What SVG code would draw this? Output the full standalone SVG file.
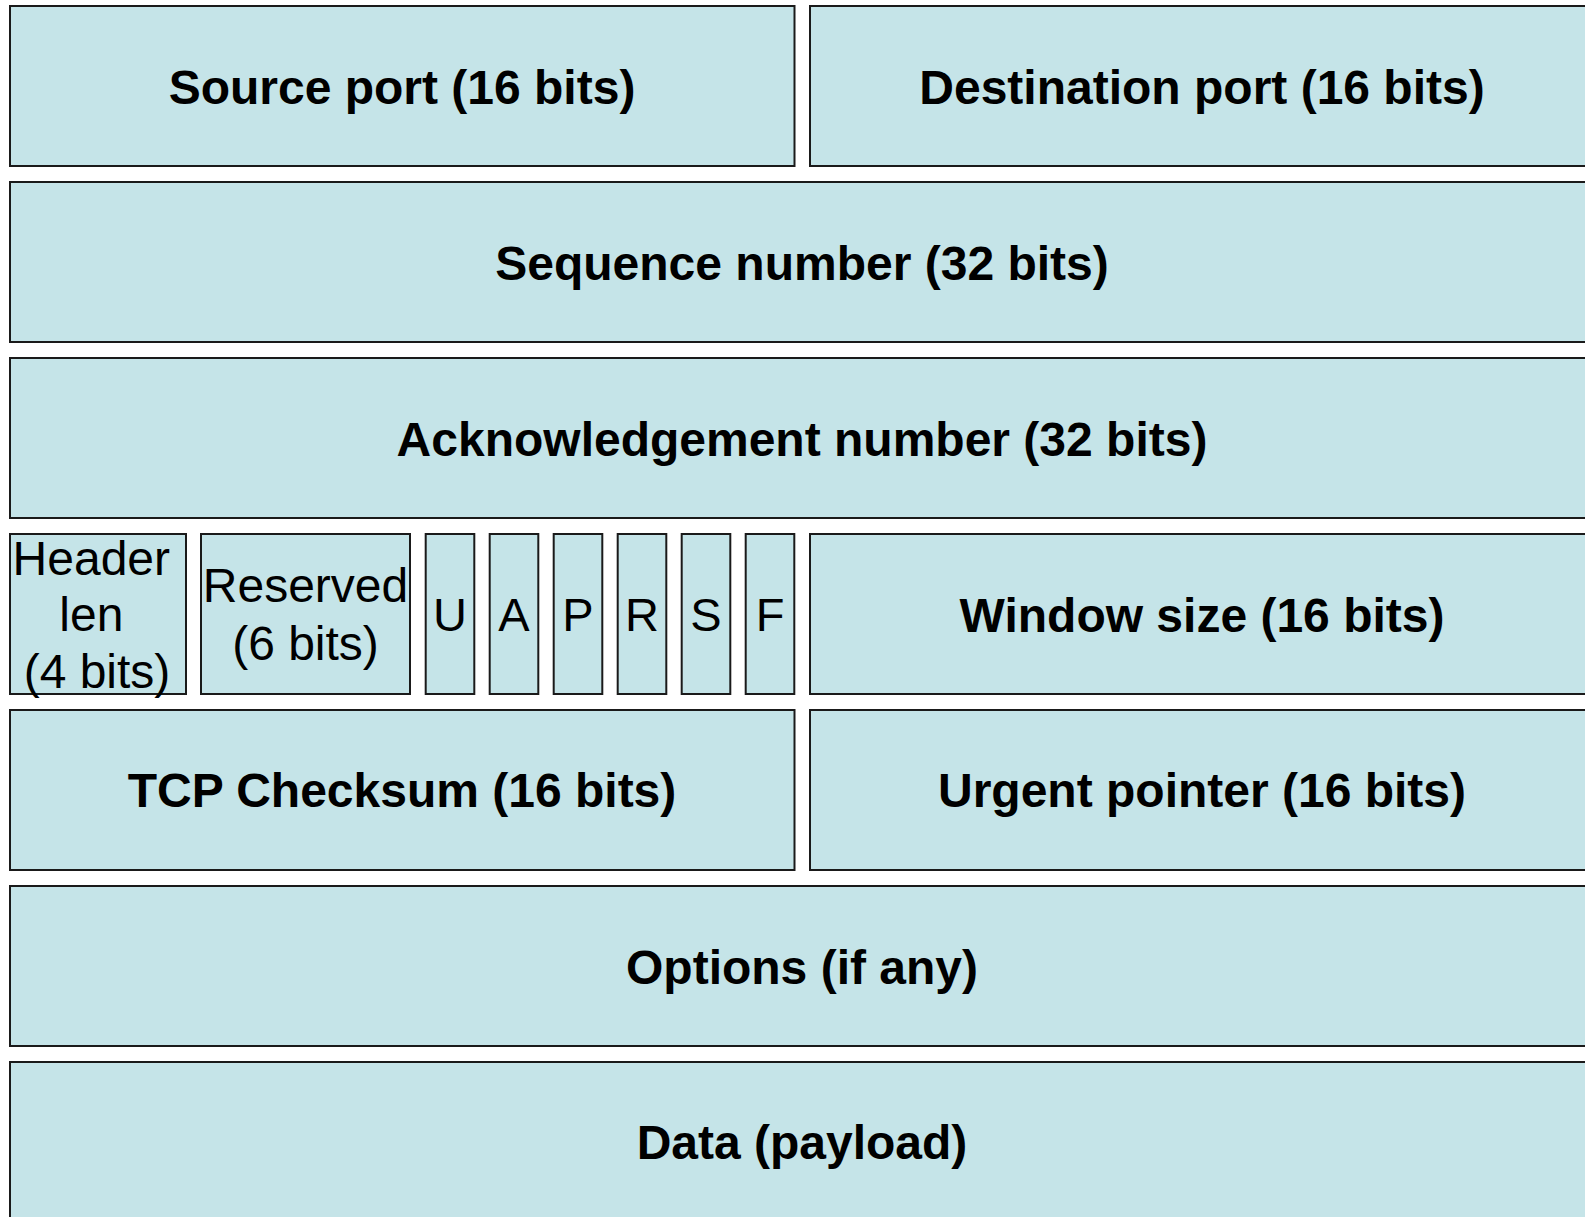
<svg xmlns="http://www.w3.org/2000/svg" width="1585" height="1217" viewBox="0 0 1585 1217">
  <style>
    .field { fill: #C5E4E8; stroke: #1a1a1a; stroke-width: 2; }
    .bold { font-family: "Liberation Sans", Arial, sans-serif; font-weight: bold; font-size: 48px; fill: #000; text-anchor: middle; }
    .reg { font-family: "Liberation Sans", Arial, sans-serif; font-size: 48px; fill: #000; text-anchor: middle; }
    .flag { font-family: "Liberation Sans", Arial, sans-serif; font-size: 47px; fill: #000; text-anchor: middle; }
  </style>
  <rect width="1585" height="1217" fill="#ffffff"/>

  <!-- Row 1 -->
  <g id="source-port">
    <rect class="field" x="10" y="6" width="784.5" height="160"/>
    <text class="bold" x="402" y="104">Source port (16 bits)</text>
  </g>
  <g id="destination-port">
    <rect class="field" x="810" y="6" width="784.5" height="160"/>
    <text class="bold" x="1202" y="104">Destination port (16 bits)</text>
  </g>

  <!-- Row 2 -->
  <g id="sequence-number">
    <rect class="field" x="10" y="182" width="1584.5" height="160"/>
    <text class="bold" x="802" y="280">Sequence number (32 bits)</text>
  </g>

  <!-- Row 3 -->
  <g id="ack-number">
    <rect class="field" x="10" y="358" width="1584.5" height="160"/>
    <text class="bold" x="802" y="456">Acknowledgement number (32 bits)</text>
  </g>

  <!-- Row 4: header length, reserved bits, flags, window -->
  <g id="header-len">
    <rect class="field" x="10" y="534" width="176" height="160"/>
    <text class="reg" x="91.3" y="575">Header</text>
    <text class="reg" x="91.3" y="631">len</text>
    <text class="reg" x="97" y="688">(4 bits)</text>
  </g>
  <g id="reserved">
    <rect class="field" x="201" y="534" width="209" height="160"/>
    <text class="reg" x="305.5" y="602">Reserved</text>
    <text class="reg" x="305.5" y="660">(6 bits)</text>
  </g>
  <g id="flag-u">
    <rect class="field" x="425.7" y="534" width="48.6" height="160"/>
    <text class="flag" x="450" y="631">U</text>
  </g>
  <g id="flag-a">
    <rect class="field" x="489.7" y="534" width="48.6" height="160"/>
    <text class="flag" x="514" y="631">A</text>
  </g>
  <g id="flag-p">
    <rect class="field" x="553.7" y="534" width="48.6" height="160"/>
    <text class="flag" x="578" y="631">P</text>
  </g>
  <g id="flag-r">
    <rect class="field" x="617.7" y="534" width="48.6" height="160"/>
    <text class="flag" x="642" y="631">R</text>
  </g>
  <g id="flag-s">
    <rect class="field" x="681.7" y="534" width="48.6" height="160"/>
    <text class="flag" x="706" y="631">S</text>
  </g>
  <g id="flag-f">
    <rect class="field" x="745.7" y="534" width="48.6" height="160"/>
    <text class="flag" x="770" y="631">F</text>
  </g>
  <g id="window-size">
    <rect class="field" x="810" y="534" width="784.5" height="160"/>
    <text class="bold" x="1202" y="632">Window size (16 bits)</text>
  </g>

  <!-- Row 5 -->
  <g id="checksum">
    <rect class="field" x="10" y="710" width="784.5" height="160"/>
    <text class="bold" x="402" y="807">TCP Checksum (16 bits)</text>
  </g>
  <g id="urgent-pointer">
    <rect class="field" x="810" y="710" width="784.5" height="160"/>
    <text class="bold" x="1202" y="807">Urgent pointer (16 bits)</text>
  </g>

  <!-- Row 6 -->
  <g id="options">
    <rect class="field" x="10" y="886" width="1584.5" height="160"/>
    <text class="bold" x="802" y="984">Options (if any)</text>
  </g>

  <!-- Row 7 -->
  <g id="data">
    <rect class="field" x="10" y="1062" width="1584.5" height="160"/>
    <text class="bold" x="802" y="1159">Data (payload)</text>
  </g>

  <!-- no connectors in this layout -->
  <g id="connectors"/>
</svg>
